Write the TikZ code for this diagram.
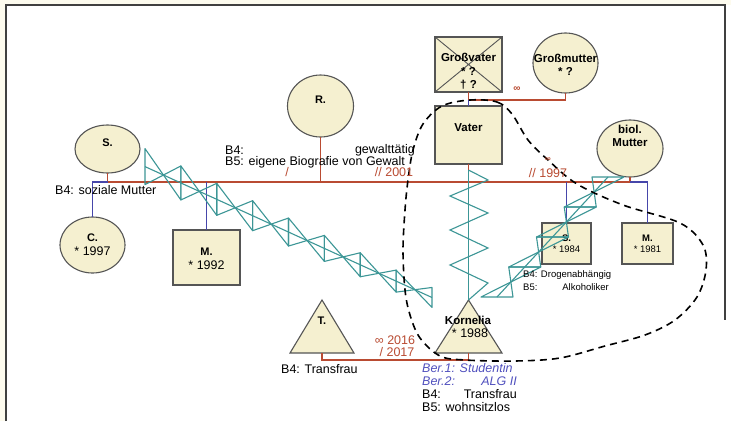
\documentclass[tikz,border=0pt]{standalone}
\usepackage{fontspec}
\setmainfont{Liberation Sans}
\usetikzlibrary{shapes.geometric,calc}
\definecolor{cream}{RGB}{245,240,208}
\definecolor{outl}{RGB}{85,85,85}
\definecolor{rel}{RGB}{185,75,50}
\definecolor{kid}{RGB}{70,70,170}
\definecolor{zz}{RGB}{60,150,150}
\definecolor{bertxt}{RGB}{80,80,190}
\definecolor{margincol}{RGB}{253,251,238}
\begin{document}
\begin{tikzpicture}[x=1pt,y=-1pt,
  person/.style={draw=outl, fill=cream, line width=1.1pt, inner sep=0pt, outer sep=0pt},
  female/.style={person, ellipse},
  male/.style={person, rectangle},
  relline/.style={draw=rel, line width=1.2pt},
  kidline/.style={draw=kid, line width=1.2pt},
  zzline/.style={draw=zz, line width=1.1pt},
  namebig/.style={inner sep=0pt, align=center, font=\fontsize{11.5}{13.5}\selectfont\bfseries},
  nameletter/.style={inner sep=0pt, font=\fontsize{11}{12}\selectfont\bfseries},
  yeartxt/.style={inner sep=0pt, font=\fontsize{12.5}{13}\selectfont},
  txt/.style={inner sep=0pt, font=\fontsize{12.5}{13}\selectfont},
  smalltxt/.style={inner sep=0pt, font=\fontsize{9.5}{10}\selectfont},
  smallbold/.style={inner sep=0pt, font=\fontsize{9.5}{10}\selectfont\bfseries},
  redtxt/.style={txt, text=rel},
  bertext/.style={txt, text=bertxt, font=\fontsize{12.5}{13}\selectfont\itshape},
]
\useasboundingbox (0,0) rectangle (731,421);
\fill[margincol] (0,0) rectangle (731,421);
\fill[white] (6,5) rectangle (731,421);
\draw[line width=1.5pt, black!75] (6,421) -- (6,5) -- (725,5) -- (725,320);

% ---------- persons ----------
\node[male, minimum width=67, minimum height=55] (GV) at (468.5,64.5) {};
\draw[outl, line width=0.9pt] (GV.north west) -- (GV.south east) (GV.north east) -- (GV.south west);
\node[namebig, font=\fontsize{11.5}{13.5}\selectfont\bfseries] (GVt) at (468.5,71.5) {Großvater\\* ?\\† ?};

\node[female, minimum width=65, minimum height=60] (GM) at (565.5,63) {};
\node[namebig] (GMt) at (565.5,65) {Großmutter\\* ?};

\node[male, minimum width=67, minimum height=58] (V) at (468.5,135) {};
\node[namebig] (Vt) at (468.5,128) {Vater};

\node[female, minimum width=66, minimum height=62] (R) at (320.5,106) {};
\node[nameletter] (Rt) at (320.5,100) {R.};

\node[female, minimum width=65, minimum height=48] (S) at (107.5,149) {};
\node[nameletter] (St) at (107.5,143) {S.};

\node[female, minimum width=65, minimum height=56] (C) at (92.5,245) {};
\node[nameletter] (Ct) at (92.5,238) {C.};
\node[yeartxt] (Cy) at (92.5,251) {* 1997};

\node[male, minimum width=67, minimum height=55] (M92) at (206.5,257.5) {};
\node[nameletter] (M92t) at (206.5,252) {M.};
\node[yeartxt] (M92y) at (206.5,265) {* 1992};

\node[female, minimum width=66, minimum height=57] (BM) at (630,148.5) {};
\node[namebig] (BMt) at (630,136) {biol.\\Mutter};

\node[male, minimum width=49, minimum height=41] (S84) at (566.5,243.5) {};
\node[smallbold] (S84t) at (566.5,238) {S.};
\node[smalltxt] (S84y) at (566.5,249) {* 1984};

\node[male, minimum width=51, minimum height=41] (M81) at (647.5,243.5) {};
\node[smallbold] (M81t) at (647.5,238) {M.};
\node[smalltxt] (M81y) at (647.5,249) {* 1981};

% triangles
\coordinate (Tapex) at (322,300);
\coordinate (Tbase) at (322,353);
\draw[person] (Tapex) -- (354,353) -- (290,353) -- cycle;
\node[nameletter] (Tt) at (322,321) {T.};
\coordinate (Kapex) at (468.5,300);
\coordinate (Kbase) at (468.5,353);
\draw[person] (Kapex) -- (502,353) -- (435,353) -- cycle;
\node[namebig] (Kt) at (468,320) {Kornelia};
\node[yeartxt] (Ky) at (470,333) {* 1988};

% ---------- relationship lines ----------
\coordinate (GVmid) at ($(GV.south)+(0,8)$);
\draw[relline] (GV.south) -- (GVmid) -| (GM.south);
\node[redtxt, font=\fontsize{10}{10}\selectfont\bfseries] (inf1) at (517,89) {∞};
\draw[kidline] (GVmid) -- (V.north);

\coordinate (mainL) at (107.5,182);
\coordinate (mainR) at (630,182);
\draw[relline] (S.south) -- (mainL) -- (mainR) -- (BM.south);
\draw[relline] (R.south) -- (R.south |- mainL);
\draw[relline] (V.south) -- (V.south |- mainL);

\draw[kidline] (mainL) -- (C.north |- mainL) -- (C.north);
\draw[kidline] (M92.north |- mainL) -- (M92.north);
\draw[kidline] (S84.north |- mainL) -- (S84.north);
\draw[kidline] (mainR) -- (M81.north |- mainL) -- (M81.north);

\draw[relline] (Tbase) -- ++(0,7) -| (Kbase);

% ---------- zigzag (hostile) lines ----------
\coordinate (zvTop) at (468.5,170);
\draw[zzline] (zvTop) -- (Kapex);
\draw[zzline] (zvTop) -- (488,180) -- (450,196) -- (488,213) -- (450,230) -- (488,248) -- (450,265) -- (488,283) -- (Kapex);

\coordinate (zaA) at (145,166.6);
\coordinate (zaB) at (432,297.5);
\draw[zzline] (zaA) -- (zaB);
\foreach \i in {0,...,7} {
  \pgfmathsetmacro\xa{145+\i*35.875}
  \pgfmathsetmacro\xb{\xa+35.875}
  \pgfmathsetmacro\ca{166.6+0.456*(\xa-145)}
  \pgfmathsetmacro\cb{166.6+0.456*(\xb-145)}
  \pgfmathsetmacro\ha{18-\i}
  \pgfmathsetmacro\hb{17-\i}
  \draw[zzline, line join=round] ({\xa},{\ca-\ha}) -- ({\xa},{\ca+\ha}) -- ({\xb},{\cb-\hb}) -- ({\xb},{\cb+\hb}) -- cycle;
}

\coordinate (zbA) at (497,297);
\coordinate (zbB) at (608,177);
\draw[zzline] (zbA) -- (zbB);
\foreach \j in {0,...,3} {
  \pgfmathsetmacro\ya{297-30*\j}
  \pgfmathsetmacro\yb{\ya-30}
  \pgfmathsetmacro\xa{497+0.925*(297-\ya)}
  \pgfmathsetmacro\xb{497+0.925*(297-\yb)}
  \draw[zzline, line join=round] ({\xa-16},{\ya}) -- ({\xa+16},{\ya}) -- ({\xb-16},{\yb}) -- ({\xb+16},{\yb}) -- cycle;
}

% ---------- dashed boundary ----------
\draw[black, line width=1.6pt, dash pattern=on 7pt off 5pt]
  plot[smooth cycle, tension=0.55] coordinates {
   (470,100) (497,102) (512,114) (528,140) (548,160) (577,184) (623,205) (680,223)
   (703,245) (706,270) (697,297) (675,320) (645,335) (605,346) (560,358) (515,361)
   (465,360) (440,356) (420,338) (410,315) (405,290) (403,250) (405,210) (408,180)
   (413,150) (423,124) (442,106)};

% ---------- texts ----------
\node[txt, anchor=west] (tSoz) at (55,190) {B4: soziale Mutter};
\node[txt, anchor=west] (tR4) at (225,150) {B4:};
\node[txt, anchor=east] (tR4b) at (415,150) {gewalttätig};
\node[txt, anchor=west] (tR5) at (225,162) {B5: eigene Biografie von Gewalt};
\node[redtxt] (tSl) at (287,172) {/};
\node[redtxt] (t2001) at (394,172) {// 2001};
\node[redtxt, font=\fontsize{8}{8}\selectfont\bfseries] (inf2) at (548,160) {∞};
\node[redtxt] (t1997) at (548,173) {// 1997};

\node[smalltxt, anchor=west] (tS4) at (523,275) {B4: Drogenabhängig};
\node[smalltxt, anchor=west] (tS5) at (523,287) {B5:};
\node[smalltxt, anchor=east] (tS5b) at (609,287) {Alkoholiker};

\node[redtxt] (t2016) at (395,340) {∞ 2016};
\node[redtxt] (t2017) at (397,352) {/ 2017};
\node[txt, anchor=west] (tT4) at (281,369) {B4: Transfrau};

\node[bertext, anchor=west] (tK1) at (422,368) {Ber.1: Studentin};
\node[bertext, anchor=west] (tK2) at (422,381) {Ber.2:};
\node[bertext, anchor=east] (tK2b) at (517,381) {ALG II};
\node[txt, anchor=west] (tK4) at (422,394) {B4:};
\node[txt, anchor=east] (tK4b) at (517,394) {Transfrau};
\node[txt, anchor=west] (tK5) at (422,407) {B5: wohnsitzlos};
\end{tikzpicture}
\end{document}
